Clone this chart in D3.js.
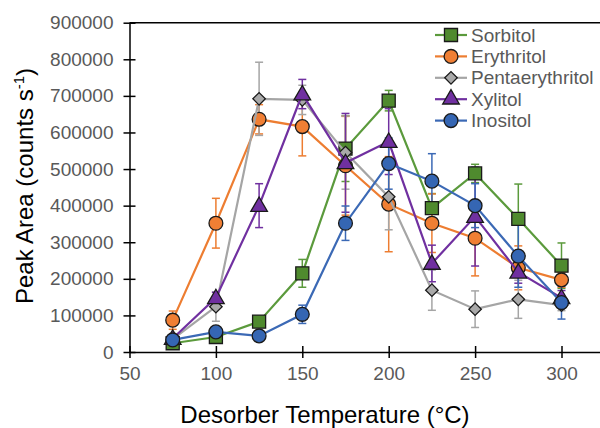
<!DOCTYPE html>
<html>
<head>
<meta charset="utf-8">
<script src="https://cdn.jsdelivr.net/npm/d3@7"></script>
<style>
  body { margin: 0; background: #fff; }
  svg { display: block; font-family: "Liberation Sans", Arial, sans-serif; }
</style>
</head>
<body>
<div id="chart"></div>
<script>
// data
const temps = [75, 100, 125, 150, 175, 200, 225, 250, 275, 300];
const names = ["Sorbitol", "Erythritol", "Pentaerythritol", "Xylitol", "Inositol"];

const sorbitol        = [24000, 41000, 83000, 215000, 556000, 687000, 393000, 488000, 364000, 236000];
const erythritol      = [87000, 352000, 636000, 616000, 509000, 404000, 352000, 311000, 230000, 197000];
const pentaerythritol = [35000, 124000, 692000, 689000, 545000, 424000, 169000, 117000, 144000, 128000];
const xylitol         = [37000, 148000, 400000, 705000, 517000, 575000, 242000, 370000, 218000, 148000];
const inositol        = [33000, 55000, 44000, 103000, 352000, 515000, 467000, 400000, 262000, 135000];

const sorbitolErr        = [5000, 6000, 6000, 38000, 90000, 28000, 40000, 25000, 95000, 62000];
const erythritolErr      = [25000, 68000, 40000, 80000, 135000, 130000, 80000, 103000, 60000, 20000];
const pentaerythritolErr = [8000, 40000, 100000, 40000, 100000, 90000, 55000, 50000, 52000, 15000];
const xylitolErr         = [6000, 15000, 60000, 40000, 135000, 90000, 50000, 135000, 30000, 20000];
const inositolErr        = [5000, 5000, 5000, 25000, 47000, 70000, 75000, 60000, 85000, 45000];

const xTicks = [50, 100, 150, 200, 250, 300];
const yTicks = [0, 100000, 200000, 300000, 400000, 500000, 600000, 700000, 800000, 900000];

const series = [
  { name: names[0], values: sorbitol, err: sorbitolErr, line: "#5b9a3c", fill: "#4f8a2e", shape: "square" },
  { name: names[1], values: erythritol, err: erythritolErr, line: "#ed7d31", fill: "#f07f34", shape: "circle" },
  { name: names[2], values: pentaerythritol, err: pentaerythritolErr, line: "#a5a5a5", fill: "#a9a9a9", shape: "diamond" },
  { name: names[3], values: xylitol, err: xylitolErr, line: "#7030a0", fill: "#7030a0", shape: "triangle" },
  { name: names[4], values: inositol, err: inositolErr, line: "#3b69b5", fill: "#3566b3", shape: "circle" }
];

// marker shapes: the diamond is a square turned 45 degrees, like Excel's
const markers = {
  square:   { type: d3.symbolSquare, size: 170, rot: 0, dy: 0 },
  circle:   { type: d3.symbolCircle, size: 150, rot: 0, dy: 0 },
  diamond:  { type: d3.symbolSquare, size: 78, rot: 45, dy: 0 },
  triangle: { type: d3.symbolTriangle, size: 120, rot: 0, dy: 1 }
};

const width = 600, height = 428;

const svg = d3.select("#chart")
  .append("svg")
  .attr("width", width)
  .attr("height", height);

// axis runs on past the right edge of the picture
const x = d3.scaleLinear().domain([50, 350]).range([129.5, 647.9]);
const y = d3.scaleLinear().domain([0, 900000]).range([352, 22.7]);

// top border
svg.append("line")
  .attr("x1", x(50)).attr("x2", width)
  .attr("y1", y(900000)).attr("y2", y(900000))
  .attr("stroke", "#000").attr("stroke-width", 1.5);

// x axis
const xAxis = svg.append("g")
  .attr("transform", `translate(0,${y(0)})`)
  .call(d3.axisBottom(x).tickValues(xTicks).tickSizeInner(6).tickSizeOuter(0).tickPadding(9));
xAxis.select(".domain").attr("stroke", "#000").attr("stroke-width", 1.5);
xAxis.selectAll(".tick line").attr("y1", -6).attr("stroke-width", 1.5);
xAxis.selectAll(".tick text").attr("fill", "#595959").style("font-size", "19px");

// y axis
const yAxis = svg.append("g")
  .attr("transform", `translate(${x(50)},0)`)
  .call(d3.axisLeft(y).tickValues(yTicks).tickFormat(d3.format("d")).tickSizeInner(6).tickSizeOuter(0).tickPadding(10));
yAxis.select(".domain").attr("stroke", "#000").attr("stroke-width", 1.5);
yAxis.selectAll(".tick line").attr("x1", 6).attr("stroke-width", 1.5);
yAxis.selectAll(".tick text").attr("fill", "#595959").style("font-size", "19px");

// axis titles
svg.append("text")
  .attr("x", 325).attr("y", 423)
  .attr("text-anchor", "middle")
  .style("font-size", "24px")
  .text("Desorber Temperature (°C)");

const yTitle = svg.append("text")
  .attr("transform", "translate(33,186) rotate(-90)")
  .attr("text-anchor", "middle")
  .style("font-size", "24px");
yTitle.append("tspan").text("Peak Area (counts s");
yTitle.append("tspan").attr("dy", -9).style("font-size", "15px").text("-1");
yTitle.append("tspan").attr("dy", 9).text(")");

const line = d3.line()
  .x((d, i) => x(temps[i]))
  .y(d => y(d));

// error bars
series.forEach(s => {
  const g = svg.append("g").attr("stroke", s.line).attr("stroke-width", 1.5);
  s.values.forEach((v, i) => {
    const cx = x(temps[i]);
    g.append("line").attr("x1", cx).attr("x2", cx).attr("y1", y(v - s.err[i])).attr("y2", y(v + s.err[i]));
    g.append("line").attr("x1", cx - 4).attr("x2", cx + 4).attr("y1", y(v - s.err[i])).attr("y2", y(v - s.err[i]));
    g.append("line").attr("x1", cx - 4).attr("x2", cx + 4).attr("y1", y(v + s.err[i])).attr("y2", y(v + s.err[i]));
  });
});

function drawMarker(sel, s) {
  const m = markers[s.shape];
  sel.attr("d", d3.symbol().type(m.type).size(m.size))
    .attr("fill", s.fill)
    .attr("stroke", "#1a1a1a")
    .attr("stroke-width", 1.3);
  return m;
}

// lines and markers
series.forEach(s => {
  svg.append("path")
    .datum(s.values)
    .attr("fill", "none")
    .attr("stroke", s.line)
    .attr("stroke-width", 2.2)
    .attr("d", line);

  const m = markers[s.shape];
  svg.append("g").selectAll("path")
    .data(s.values)
    .join("path")
    .attr("transform", (d, i) => `translate(${x(temps[i])},${y(d) + m.dy}) rotate(${m.rot})`)
    .call(drawMarker, s);
});

// legend
const legend = svg.append("g");
series.forEach((s, i) => {
  const ly = 35 + i * 21.4;
  const m = markers[s.shape];
  legend.append("line")
    .attr("x1", 435).attr("x2", 467).attr("y1", ly).attr("y2", ly)
    .attr("stroke", s.line).attr("stroke-width", 2.2);
  legend.append("path")
    .attr("transform", `translate(451,${ly}) rotate(${m.rot})`)
    .call(drawMarker, s);
  legend.append("text")
    .attr("x", 471).attr("y", ly)
    .attr("dominant-baseline", "central")
    .attr("fill", "#595959")
    .style("font-size", "19px")
    .text(s.name);
});
</script>
</body>
</html>
